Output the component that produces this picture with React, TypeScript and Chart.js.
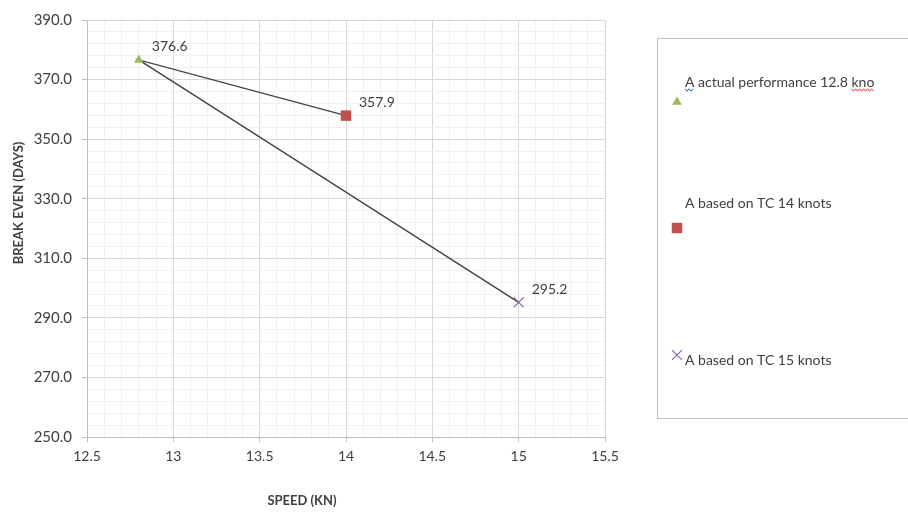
import React, { useEffect, useRef } from 'react';
import { Chart, registerables } from 'chart.js';
import { drawPoint } from 'chart.js/helpers';

Chart.register(...registerables);

// ---- data ----
const speeds = [12.8, 14, 15];
const breakEvenDays = [376.6, 357.9, 295.2];
const seriesNames = [
  'A actual performance 12.8 kno',
  'A based on TC 14 knots',
  'A based on TC 15 knots',
];
const connectorOrder = [1, 0, 2];
const xAxisTitle = 'SPEED (KN)';
const yAxisTitle = 'BREAK EVEN (DAYS)';
const xMin = 12.5;
const xMax = 15.5;
const yMin = 250;
const yMax = 390;

// ---- styles ----
const seriesColors = ['#9BBB59', '#C0504D', '#8064A2'];
const seriesShapes = ['triangle', 'rect', 'crossRot'];
const seriesRadii = [5.5, 7.4, 7];
const FONT = 'Lato, "Open Sans", sans-serif';
const TEXT = '#404040';

const isMajorX = (v: number) => Math.abs(v * 2 - Math.round(v * 2)) < 1e-6;
const isMajorY = (v: number) => Math.abs(((v - yMin) / 20) - Math.round((v - yMin) / 20)) < 1e-6;

const pointLabelPlugin = {
  id: 'pointLabels',
  afterDatasetsDraw(chart: any) {
    const ctx = chart.ctx;
    ctx.save();
    ctx.font = `14px ${FONT}`;
    ctx.fillStyle = TEXT;
    ctx.textAlign = 'left';
    ctx.textBaseline = 'middle';
    chart.data.datasets.forEach((ds: any, i: number) => {
      if (!ds.isSeries) return;
      const meta = chart.getDatasetMeta(i);
      meta.data.forEach((el: any, j: number) => {
        const v = ds.data[j].y;
        ctx.fillText(v.toFixed(1), el.x + 13, el.y - 13);
      });
    });
    ctx.restore();
  },
};

const axisTitlePlugin = {
  id: 'axisTitles',
  afterDraw(chart: any) {
    const ctx = chart.ctx;
    const area = chart.chartArea;
    ctx.save();
    ctx.font = `bold 13px ${FONT}`;
    ctx.fillStyle = TEXT;
    ctx.textAlign = 'center';
    ctx.textBaseline = 'middle';
    ctx.fillText(xAxisTitle, area.left + 215, area.bottom + 64);
    ctx.translate(19, area.top + 183);
    ctx.rotate(-Math.PI / 2);
    ctx.fillText(yAxisTitle, 0, 0);
    ctx.restore();
  },
};

function wavy(ctx: CanvasRenderingContext2D, x1: number, x2: number, y: number, color: string) {
  ctx.save();
  ctx.strokeStyle = color;
  ctx.lineWidth = 1;
  ctx.beginPath();
  let k = 0;
  for (let x = x1; x <= x2; x += 2, k++) {
    const yy = y + (k % 2 ? 1.2 : -1.2);
    if (k === 0) ctx.moveTo(x, yy);
    else ctx.lineTo(x, yy);
  }
  ctx.stroke();
  ctx.restore();
}

const sideLegendPlugin = {
  id: 'sideLegend',
  afterDraw(chart: any) {
    const ctx = chart.ctx;
    const boxLeft = 657.5;
    const boxTop = 38.5;
    const textX = 685;
    const markerX = 677;
    const textY = [82, 203, 360];
    const markerY = [102, 228, 355];
    ctx.save();
    ctx.strokeStyle = '#bfbfbf';
    ctx.lineWidth = 1;
    ctx.strokeRect(boxLeft, boxTop, 400, 380);
    const series = chart.data.datasets.filter((d: any) => d.isSeries);
    series.forEach((ds: any, i: number) => {
      ctx.fillStyle = ds.backgroundColor;
      ctx.strokeStyle = ds.borderColor;
      ctx.lineWidth = ds.pointBorderWidth ?? 1;
      drawPoint(ctx, {
        pointStyle: ds.pointStyle,
        radius: ds.pointRadius,
        rotation: 0,
        borderWidth: ds.pointBorderWidth ?? 1,
      } as any, markerX, markerY[i]);
      ctx.font = `14px ${FONT}`;
      ctx.fillStyle = TEXT;
      ctx.textAlign = 'left';
      ctx.textBaseline = 'middle';
      ctx.fillText(ds.label, textX, textY[i]);
      if (i === 0) {
        wavy(ctx, textX, textX + 9, textY[i] + 8, '#3050d0');
        const pre = ctx.measureText(ds.label.slice(0, ds.label.length - 3)).width;
        const full = ctx.measureText(ds.label).width;
        wavy(ctx, textX + pre, textX + full, textY[i] + 8, '#e03030');
      }
    });
    ctx.restore();
  },
};

export default function App() {
  const canvasRef = useRef<HTMLCanvasElement | null>(null);

  useEffect(() => {
    if (!canvasRef.current) return;
    Chart.defaults.font.family = FONT;

    const connector = connectorOrder.map((i) => ({ x: speeds[i], y: breakEvenDays[i] }));
    const seriesSets = speeds.map((s, i) => ({
      type: 'scatter' as const,
      label: seriesNames[i],
      data: [{ x: s, y: breakEvenDays[i] }],
      isSeries: true,
      backgroundColor: seriesColors[i],
      borderColor: seriesColors[i],
      pointStyle: seriesShapes[i],
      pointRadius: seriesRadii[i],
      pointHoverRadius: seriesRadii[i],
      pointBorderWidth: i === 2 ? 1.2 : 0,
      borderWidth: i === 2 ? 1.2 : 0,
      order: 0,
    }));

    const chart = new Chart(canvasRef.current, {
      type: 'scatter',
      data: {
        datasets: [
          {
            type: 'line',
            label: 'connector',
            data: connector,
            borderColor: '#404040',
            borderWidth: 1.3,
            pointRadius: 0,
            fill: false,
            tension: 0,
            order: 1,
          } as any,
          ...seriesSets,
        ],
      },
      options: {
        animation: false,
        responsive: true,
        maintainAspectRatio: false,
        layout: { padding: { left: 0, top: 20, right: 303, bottom: 0 } },
        plugins: {
          legend: { display: false },
          tooltip: { enabled: false },
        },
        scales: {
          x: {
            type: 'linear',
            min: xMin,
            max: xMax,
            afterFit: (s: any) => {
              s.height = 75;
            },
            ticks: {
              stepSize: 0.1,
              maxTicksLimit: 1000,
              autoSkip: false,
              maxRotation: 0,
              padding: 6,
              color: TEXT,
              font: { size: 14 },
              callback: (v: any) => (isMajorX(Number(v)) ? String(Number(Number(v).toFixed(1))) : ''),
            },
            grid: {
              color: (c: any) => (c.tick && isMajorX(c.tick.value) ? '#d9d9d9' : '#f0f0f0'),
              tickColor: (c: any) => (c.tick && isMajorX(c.tick.value) ? '#bfbfbf' : 'rgba(0,0,0,0)'),
              tickLength: 5,
              lineWidth: 1,
            },
            border: { color: '#bfbfbf', width: 1 },
          },
          y: {
            type: 'linear',
            min: yMin,
            max: yMax,
            afterFit: (s: any) => {
              s.width = 87;
            },
            ticks: {
              stepSize: 4,
              maxTicksLimit: 1000,
              autoSkip: false,
              padding: 10,
              color: TEXT,
              font: { size: 15 },
              callback: (v: any) => (isMajorY(Number(v)) ? Number(v).toFixed(1) : ''),
            },
            grid: {
              color: (c: any) => (c.tick && isMajorY(c.tick.value) ? '#d9d9d9' : '#f0f0f0'),
              tickColor: (c: any) => (c.tick && isMajorY(c.tick.value) ? '#bfbfbf' : 'rgba(0,0,0,0)'),
              tickLength: 5,
              lineWidth: 1,
            },
            border: { color: '#bfbfbf', width: 1 },
          },
        },
      },
      plugins: [pointLabelPlugin, axisTitlePlugin, sideLegendPlugin],
    } as any);

    return () => chart.destroy();
  }, []);

  return (
    <div style={{ position: 'fixed', left: 0, top: 0, width: 908, height: 512, background: '#fff' }}>
      <canvas ref={canvasRef} />
    </div>
  );
}
